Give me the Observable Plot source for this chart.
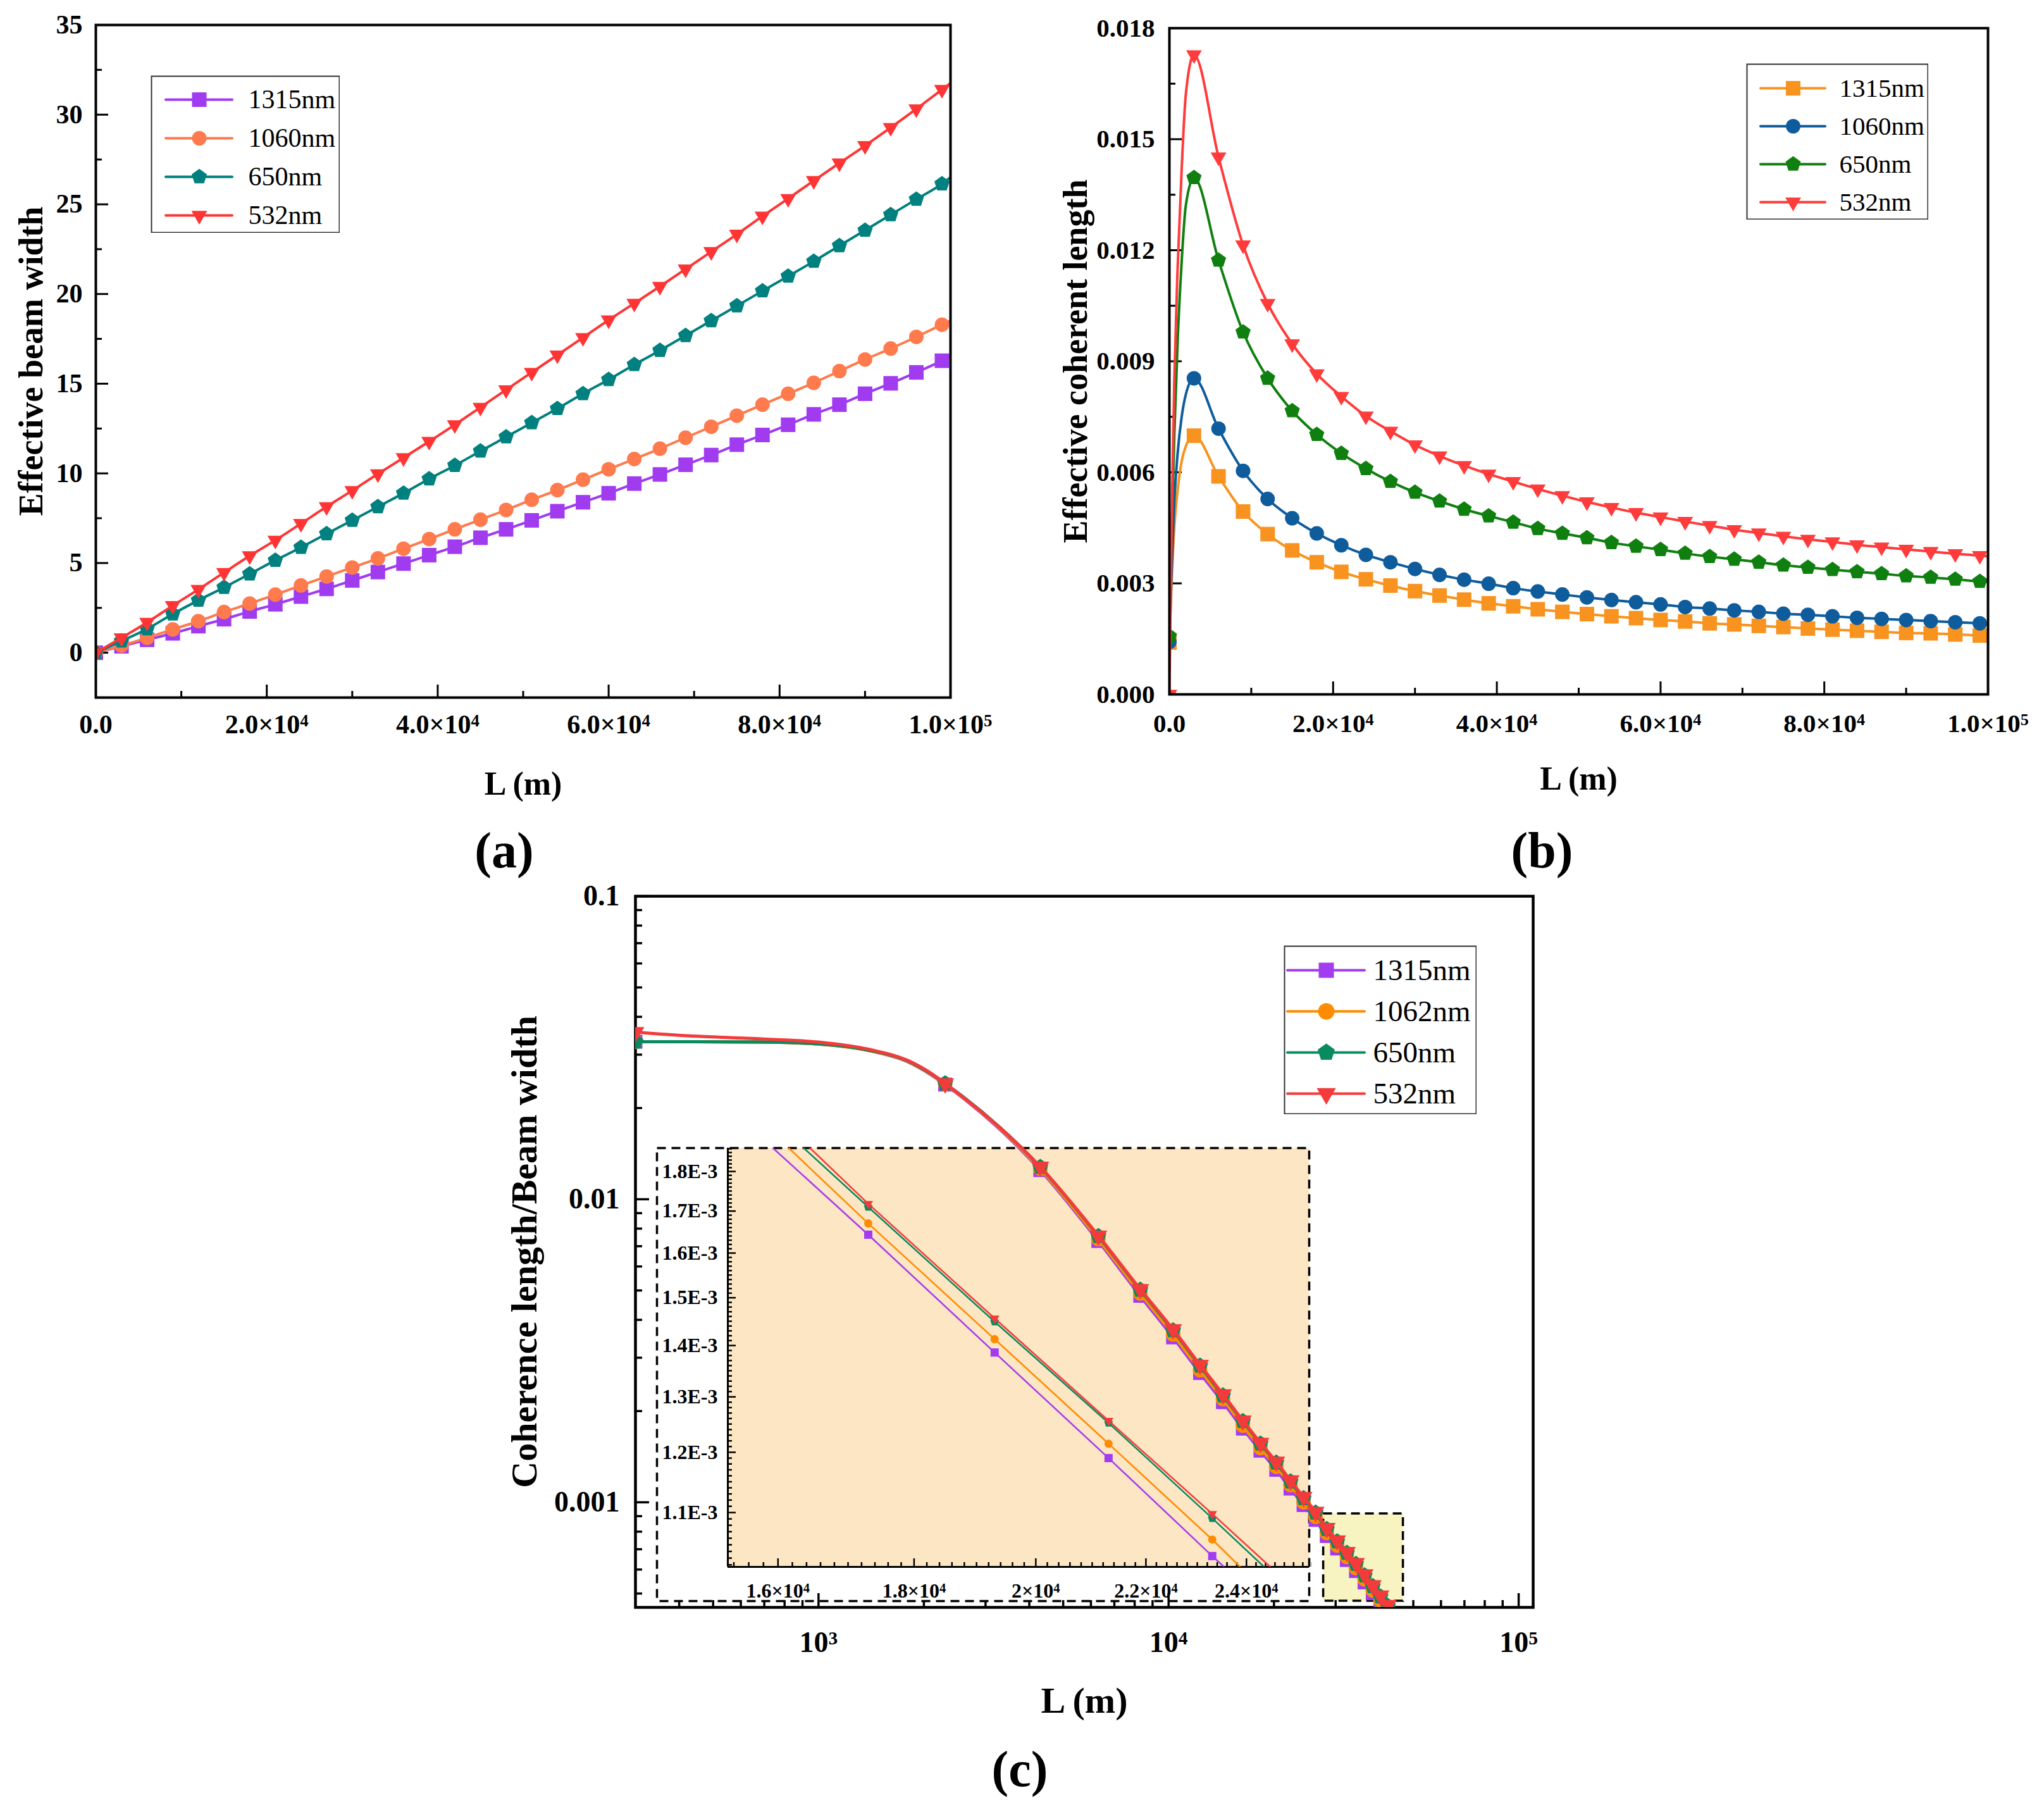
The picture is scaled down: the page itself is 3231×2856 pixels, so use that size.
<!DOCTYPE html>
<html>
<head>
<meta charset="utf-8">
<script src="https://cdn.jsdelivr.net/npm/d3@7"></script>
<script src="https://cdn.jsdelivr.net/npm/@observablehq/plot@0.6"></script>
<style>
html, body { margin: 0; padding: 0; background: #fff; }
#fig { position: relative; width: 3231px; height: 2856px; background: #fff; overflow: hidden; }
#fig > svg, #fig > div { position: absolute; }
</style>
</head>
<body>
<div id="fig"></div>
<script>
// ================= DATA =================
const names = ["1315nm", "1060nm", "650nm", "532nm"];
const namesC = ["1315nm", "1062nm", "650nm", "532nm"];

// ---- Panel (a): effective beam width vs L ----
const aL = [0, 3000, 6000, 9000, 12000, 15000, 18000, 21000, 24000, 27000, 30000, 33000, 36000, 39000, 42000, 45000, 48000, 51000, 54000, 57000, 60000, 63000, 66000, 69000, 72000, 75000, 78000, 81000, 84000, 87000, 90000, 93000, 96000, 99000, 100000];
const a1315 = [0, 0.36, 0.72, 1.08, 1.48, 1.87, 2.30, 2.70, 3.13, 3.56, 4.03, 4.50, 4.97, 5.44, 5.91, 6.41, 6.88, 7.38, 7.89, 8.39, 8.89, 9.43, 9.94, 10.48, 11.02, 11.60, 12.14, 12.71, 13.29, 13.83, 14.44, 15.02, 15.63, 16.28, 16.53];
const a1060 = [0, 0.40, 0.83, 1.30, 1.76, 2.27, 2.74, 3.24, 3.75, 4.25, 4.75, 5.26, 5.80, 6.34, 6.88, 7.42, 7.96, 8.53, 9.07, 9.65, 10.23, 10.80, 11.38, 11.99, 12.60, 13.22, 13.83, 14.44, 15.05, 15.70, 16.35, 16.96, 17.61, 18.29, 18.51];
const a650 = [0, 0.65, 1.33, 2.16, 2.92, 3.64, 4.39, 5.15, 5.87, 6.63, 7.38, 8.14, 8.89, 9.69, 10.44, 11.24, 12.03, 12.82, 13.61, 14.44, 15.23, 16.06, 16.85, 17.68, 18.51, 19.34, 20.17, 20.99, 21.82, 22.69, 23.55, 24.42, 25.28, 26.14, 26.50];
const a532 = [0, 0.83, 1.69, 2.63, 3.53, 4.47, 5.40, 6.27, 7.20, 8.14, 9.04, 9.97, 10.87, 11.78, 12.71, 13.68, 14.66, 15.63, 16.60, 17.57, 18.55, 19.48, 20.42, 21.39, 22.36, 23.33, 24.34, 25.32, 26.32, 27.30, 28.27, 29.28, 30.32, 31.40, 31.76];
const aXTicks = [0, 20000, 40000, 60000, 80000, 100000];
const aXLabels = ["0.0", "2.0×10^4", "4.0×10^4", "6.0×10^4", "8.0×10^4", "1.0×10^5"];
const aXMinor = [10000, 30000, 50000, 70000, 90000];
const aYTicks = [0, 5, 10, 15, 20, 25, 30, 35];
const aYLabels = ["0", "5", "10", "15", "20", "25", "30", "35"];
const aYMinor = [2.5, 7.5, 12.5, 17.5, 22.5, 27.5, 32.5];

// ---- Panel (b): effective coherent length vs L ----
const bL = [0, 300, 600, 1000, 1500, 2000, 3000, 6000, 9000, 12000, 15000, 18000, 21000, 24000, 27000, 30000, 33000, 36000, 39000, 42000, 45000, 48000, 51000, 54000, 57000, 60000, 63000, 66000, 69000, 72000, 75000, 78000, 81000, 84000, 87000, 90000, 93000, 96000, 99000, 100000];
const b1315 = [0.0014, 0.0032, 0.0045, 0.0055, 0.0063, 0.0067, 0.00699, 0.00589, 0.00494, 0.00433, 0.00389, 0.00357, 0.00331, 0.00311, 0.00294, 0.00279, 0.00267, 0.00256, 0.00246, 0.00238, 0.00230, 0.00223, 0.00217, 0.00211, 0.00206, 0.00201, 0.00197, 0.00192, 0.00189, 0.00185, 0.00182, 0.00178, 0.00175, 0.00172, 0.00169, 0.00166, 0.00165, 0.00162, 0.00159, 0.00158];
const b1060 = [0.00142, 0.0035, 0.0052, 0.0065, 0.0075, 0.0081, 0.00854, 0.00718, 0.00604, 0.00528, 0.00476, 0.00435, 0.00403, 0.00377, 0.00357, 0.00339, 0.00323, 0.00310, 0.00299, 0.00287, 0.00278, 0.00270, 0.00262, 0.00255, 0.00249, 0.00243, 0.00236, 0.00232, 0.00227, 0.00223, 0.00218, 0.00215, 0.00211, 0.00207, 0.00204, 0.00201, 0.00198, 0.00195, 0.00192, 0.00191];
const b650 = [0.00157, 0.0045, 0.0070, 0.0095, 0.0117, 0.0132, 0.01396, 0.01173, 0.00979, 0.00854, 0.00766, 0.00702, 0.00651, 0.00610, 0.00575, 0.00546, 0.00522, 0.00500, 0.00482, 0.00465, 0.00448, 0.00435, 0.00423, 0.00410, 0.00400, 0.00391, 0.00381, 0.00372, 0.00365, 0.00357, 0.00349, 0.00343, 0.00337, 0.00331, 0.00326, 0.00320, 0.00316, 0.00311, 0.00305, 0.00304];
const b532 = [0, 0.0050, 0.0085, 0.0115, 0.0142, 0.0162, 0.01728, 0.01452, 0.01214, 0.01056, 0.00947, 0.00866, 0.00805, 0.00752, 0.00711, 0.00674, 0.00644, 0.00618, 0.00595, 0.00575, 0.00555, 0.00537, 0.00520, 0.00505, 0.00491, 0.00479, 0.00467, 0.00456, 0.00445, 0.00436, 0.00427, 0.00419, 0.00412, 0.00404, 0.00398, 0.00392, 0.00386, 0.00380, 0.00375, 0.00373];
const bXTicks = aXTicks;
const bXLabels = aXLabels;
const bXMinor = aXMinor;
const bYTicks = [0, 0.003, 0.006, 0.009, 0.012, 0.015, 0.018];
const bYLabels = ["0.000", "0.003", "0.006", "0.009", "0.012", "0.015", "0.018"];
const bYMinor = [0.0015, 0.0045, 0.0075, 0.0105, 0.0135, 0.0165];

// ---- Panel (c): coherence length / beam width vs L (log-log) ----
const cL = [300, 450, 700, 1000, 1400, 1800, 2100, 2300, 4300, 6300, 8300, 10300, 12300, 14300, 16300, 18300, 20300, 22300, 24300, 26300, 28300, 30300, 32300, 34300, 36300, 38300, 40300, 42300, 44300];
const c1315 = [0.0331, 0.0331, 0.0330, 0.0325, 0.0309, 0.0284, 0.0257, 0.0239, 0.01248, 0.00728, 0.00480, 0.00350, 0.00267, 0.00214, 0.00175, 0.00148, 0.00128, 0.00111, 0.000979, 0.000875, 0.000774, 0.000704, 0.000645, 0.000593, 0.000544, 0.000501, 0.000463, 0.000431, 0.000403];
const c1062 = [0.0331, 0.0331, 0.0330, 0.0325, 0.0309, 0.0285, 0.0258, 0.0240, 0.01261, 0.00739, 0.00489, 0.00358, 0.00273, 0.00219, 0.00179, 0.00151, 0.00131, 0.00114, 0.00100, 0.000896, 0.000792, 0.000720, 0.000660, 0.000607, 0.000557, 0.000512, 0.000474, 0.000441, 0.000412];
const c650 = [0.0331, 0.0331, 0.0330, 0.0326, 0.0310, 0.0286, 0.0259, 0.0241, 0.01277, 0.00755, 0.00502, 0.00369, 0.00282, 0.00225, 0.00185, 0.00156, 0.00135, 0.00117, 0.00103, 0.000923, 0.000815, 0.000742, 0.000680, 0.000625, 0.000573, 0.000528, 0.000488, 0.000454, 0.000425];
const c532 = [0.0356, 0.0345, 0.0338, 0.0330, 0.0312, 0.0287, 0.0260, 0.0241, 0.0128, 0.00758, 0.00505, 0.00372, 0.00284, 0.00227, 0.00186, 0.00157, 0.00136, 0.00118, 0.00104, 0.00093, 0.000822, 0.000748, 0.000685, 0.000630, 0.000578, 0.000532, 0.000492, 0.000458, 0.000428];
const cXTicks = [1000, 10000, 100000];
const cXLabels = ["10^3", "10^4", "10^5"];
const cXMinor = [400, 500, 600, 700, 800, 900, 2000, 3000, 4000, 5000, 6000, 7000, 8000, 9000, 20000, 30000, 40000, 50000, 60000, 70000, 80000, 90000];
const cYTicks = [0.001, 0.01, 0.1];
const cYLabels = ["0.001", "0.01", "0.1"];
const cYMinor = [0.0005, 0.0006, 0.0007, 0.0008, 0.0009, 0.002, 0.003, 0.004, 0.005, 0.006, 0.007, 0.008, 0.009, 0.02, 0.03, 0.04, 0.05, 0.06, 0.07, 0.08, 0.09];
const zoomBoxL = [27700, 46800];
const zoomBoxV = [0.000472, 0.000917];

// ---- Inset of panel (c) ----
const inXDomain = [15320, 25340];
const inYDomain = [0.001017, 0.001862];
const in1315L = [15930, 17300, 19300, 21300, 23300, 23540];
const in1315 = [0.001862, 0.001643, 0.001386, 0.001190, 0.001033, 0.001017];
const in1062L = [16150, 17300, 19300, 21300, 23300, 23870];
const in1062 = [0.001862, 0.001670, 0.001413, 0.001215, 0.001058, 0.001017];
const in650L = [16360, 17300, 19300, 21300, 23300, 24370];
const in650 = [0.001862, 0.001710, 0.001449, 0.001252, 0.001091, 0.001017];
const in532L = [16450, 17300, 19300, 21300, 23300, 24500];
const in532 = [0.001862, 0.001718, 0.001456, 0.001256, 0.001098, 0.001017];
const inMarkL = [17300, 19300, 21300, 23300];
const inXTicks = [16000, 18000, 20000, 22000, 24000];
const inXLabels = ["1.6×10^4", "1.8×10^4", "2×10^4", "2.2×10^4", "2.4×10^4"];
const inYTicks = [0.0011, 0.0012, 0.0013, 0.0014, 0.0015, 0.0016, 0.0017, 0.0018];
const inYLabels = ["1.1E-3", "1.2E-3", "1.3E-3", "1.4E-3", "1.5E-3", "1.6E-3", "1.7E-3", "1.8E-3"];

// ================= HELPERS =================
const FONT = "'Liberation Serif', 'Times New Roman', Times, serif";
const SVGNS = "http://www.w3.org/2000/svg";
const fig = document.getElementById("fig");
function put(el, left, top) { el.style.left = left + "px"; el.style.top = top + "px"; fig.appendChild(el); return el; }
function labeler(ticks, labels) { const m = new Map(ticks.map((t, i) => [t, labels[i]])); return d => m.get(d); }
function superscripts(svg) {
  svg.querySelectorAll("text").forEach(t => {
    const s = t.textContent;
    if (!s.includes("^")) return;
    const [base, exp] = s.split("^");
    t.textContent = "";
    const a = document.createElementNS(SVGNS, "tspan"); a.textContent = base;
    const b = document.createElementNS(SVGNS, "tspan");
    b.setAttribute("dy", "-0.42em"); b.setAttribute("font-size", "0.64em"); b.textContent = exp;
    t.append(a, b);
  });
  return svg;
}
// marker symbols
const rad = size => Math.sqrt(size / Math.PI);
const symSquare = {draw(ctx, size) { const r = rad(size); ctx.moveTo(-r, -r); ctx.lineTo(r, -r); ctx.lineTo(r, r); ctx.lineTo(-r, r); ctx.closePath(); }};
const symCircle = {draw(ctx, size) { const r = rad(size); ctx.moveTo(r, 0); ctx.arc(0, 0, r, 0, 2 * Math.PI); ctx.closePath(); }};
const symPentagon = {draw(ctx, size) { const R = 1.1 * rad(size); for (let k = 0; k < 5; k++) { const a = -Math.PI / 2 + k * 2 * Math.PI / 5; const x = R * Math.cos(a), y = R * Math.sin(a); if (k) ctx.lineTo(x, y); else ctx.moveTo(x, y); } ctx.closePath(); }};
const symTriDown = {draw(ctx, size) { const R = 1.25 * rad(size); ctx.moveTo(0, R); ctx.lineTo(-R * 0.866, -R * 0.5); ctx.lineTo(R * 0.866, -R * 0.5); ctx.closePath(); }};
const SYMS = [symSquare, symCircle, symPentagon, symTriDown];

function seriesMarks(series, isMarker, lineW, curve) {
  return series.flatMap(s => {
    const data = s.L.map((x, i) => ({L: x, v: s.v[i]}));
    return [
      Plot.line(data, {x: "L", y: "v", stroke: s.color, strokeWidth: lineW, curve, clip: true}),
      Plot.dot(data.filter(d => isMarker(d.L)), {x: "L", y: "v", r: s.r, symbol: s.sym, fill: s.color, stroke: "none", clip: true})
    ];
  });
}
function ticksLeft(values, len, fw, sw) { return Plot.tickY(values, {y: d => d, insetRight: fw - len, stroke: "#000", strokeWidth: sw}); }
function ticksBottom(values, len, fh, sw) { return Plot.tickX(values, {x: d => d, insetTop: fh - len, stroke: "#000", strokeWidth: sw}); }
function yTitle(text, dx, fontSize) { return Plot.text([text], {text: d => d, frameAnchor: "left", textAnchor: "middle", lineAnchor: "middle", dx, rotate: -90, fontSize}); }
function xTitle(text, dx, dy, fontSize) { return Plot.text([text], {text: d => d, frameAnchor: "bottom", textAnchor: "middle", lineAnchor: "middle", dx, dy, fontSize}); }

function legend({labels, colors, rs, w, h, rowY, lineX, textX, fontSize, lineW}) {
  return Plot.plot({
    width: w, height: h, margin: 0,
    style: {fontFamily: FONT, fontWeight: "normal", fontSize: fontSize + "px", background: "#fff", color: "#000"},
    x: {domain: [0, 1], range: lineX, axis: null},
    y: {type: "point", domain: labels, range: rowY, padding: 0, axis: null},
    marks: [
      Plot.frame({stroke: "#333", strokeWidth: 2, inset: 1}),
      ...labels.map((n, i) => Plot.ruleY([n], {y: d => d, x1: 0, x2: 1, stroke: colors[i], strokeWidth: lineW, strokeLinecap: "round"})),
      ...labels.map((n, i) => Plot.dot([n], {x: 0.5, y: d => d, r: rs[i], symbol: SYMS[i], fill: colors[i], stroke: "none"})),
      Plot.text(labels, {x: 1, y: d => d, text: d => d, dx: textX - lineX[1], textAnchor: "start", fontSize, fontFamily: FONT, fontWeight: "normal"})
    ]
  });
}

// ================= PANEL (a) =================
const colA = ["#A03BF0", "#FF7A4D", "#00807E", "#FF3535"];
const A = {w: 1620, h: 1420, ml: 151, mr: 118, mt: 39, mb: 318};
A.fw = A.w - A.ml - A.mr; A.fh = A.h - A.mt - A.mb;
const seriesA = [a1315, a1060, a650, a532].map((v, i) => ({L: aL, v, color: colA[i], sym: SYMS[i], r: 11.5}));
const plotA = Plot.plot({
  width: A.w, height: A.h, marginLeft: A.ml, marginRight: A.mr, marginTop: A.mt, marginBottom: A.mb,
  style: {fontFamily: FONT, fontWeight: "bold", fontSize: "42px", background: "transparent", color: "#000"},
  x: {domain: [0, 1e5]},
  y: {domain: [-2.5, 35]},
  marks: [
    ticksLeft(aYTicks, 20, A.fw, 3), ticksLeft(aYMinor, 10, A.fw, 3),
    ticksBottom(aXTicks, 20, A.fh, 3), ticksBottom(aXMinor, 10, A.fh, 3),
    Plot.axisX(aXTicks, {tickSize: 0, tickPadding: 27, tickFormat: labeler(aXTicks, aXLabels), label: null}),
    Plot.axisY(aYTicks, {tickSize: 0, tickPadding: 21, tickFormat: labeler(aYTicks, aYLabels), label: null}),
    ...seriesMarks(seriesA, L => L % 3000 === 0 && L < 100000, 4, "monotone-x"),
    Plot.frame({stroke: "#000", strokeWidth: 4}),
    yTitle("Effective beam width", -102, 54),
    xTitle("L (m)", 0, 137, 52),
    xTitle("(a)", -30, 243, 80)
  ]
});
put(superscripts(plotA), 0, 0);
put(legend({labels: names, colors: colA, rs: [11.5, 11.5, 11.5, 11.5], w: 299, h: 249, rowY: [37, 221], lineX: [24, 129], textX: 154, fontSize: 42, lineW: 4}), 238, 119);

// ================= PANEL (b) =================
const colB = ["#F8931F", "#0F5C9C", "#0F800F", "#FF3B3B"];
const B = {w: 1591, h: 1420, ml: 208, mr: 89, mt: 44, mb: 323};
B.fw = B.w - B.ml - B.mr; B.fh = B.h - B.mt - B.mb;
const seriesB = [b1315, b1060, b650, b532].map((v, i) => ({L: bL, v, color: colB[i], sym: SYMS[i], r: 11.5}));
const plotB = Plot.plot({
  width: B.w, height: B.h, marginLeft: B.ml, marginRight: B.mr, marginTop: B.mt, marginBottom: B.mb,
  style: {fontFamily: FONT, fontWeight: "bold", fontSize: "41px", background: "transparent", color: "#000"},
  x: {domain: [0, 1e5]},
  y: {domain: [0, 0.018]},
  marks: [
    ticksLeft(bYTicks, 20, B.fw, 3), ticksLeft(bYMinor, 10, B.fw, 3),
    ticksBottom(bXTicks, 20, B.fh, 3), ticksBottom(bXMinor, 10, B.fh, 3),
    Plot.axisX(bXTicks, {tickSize: 0, tickPadding: 30, tickFormat: labeler(bXTicks, bXLabels), label: null}),
    Plot.axisY(bYTicks, {tickSize: 0, tickPadding: 23, tickFormat: labeler(bYTicks, bYLabels), label: null}),
    ...seriesMarks(seriesB, L => L % 3000 === 0 && L < 100000, 4, "monotone-x"),
    Plot.frame({stroke: "#000", strokeWidth: 4}),
    yTitle("Effective coherent length", -148, 54),
    xTitle("L (m)", 0, 134, 52),
    xTitle("(b)", -58, 248, 80)
  ]
});
put(superscripts(plotB), 1640, 0);
put(legend({labels: names, colors: colB, rs: [11.5, 11.5, 11.5, 11.5], w: 288, h: 247, rowY: [38, 220], lineX: [23, 125], textX: 147, fontSize: 41, lineW: 4}), 2760, 100);

// ================= PANEL (c) =================
const colC = ["#A33BF0", "#FF8C00", "#0A8A5F", "#F43B3B"];
const C = {w: 1800, h: 1476, ml: 304, mr: 77, mt: 36, mb: 316, left: 700, top: 1380};
C.fw = C.w - C.ml - C.mr; C.fh = C.h - C.mt - C.mb;
const cX = {type: "log", domain: [300, 1.1e5]};
const cY = {type: "log", domain: [0.00045, 0.1]};
const zoomBox = [{L1: zoomBoxL[0], L2: zoomBoxL[1], v1: zoomBoxV[0], v2: zoomBoxV[1]}];
const plotC = Plot.plot({
  width: C.w, height: C.h, marginLeft: C.ml, marginRight: C.mr, marginTop: C.mt, marginBottom: C.mb,
  style: {fontFamily: FONT, fontWeight: "bold", fontSize: "46px", background: "transparent", color: "#000"},
  x: cX, y: cY,
  marks: [
    Plot.rect(zoomBox, {x1: "L1", x2: "L2", y1: "v1", y2: "v2", fill: "#F7F4C1", stroke: "#000", strokeWidth: 3.5, strokeDasharray: "14,8"}),
    ticksLeft(cYTicks, 22, C.fw, 3.5), ticksLeft(cYMinor, 11, C.fw, 3.5),
    ticksBottom(cXTicks, 22, C.fh, 3.5), ticksBottom(cXMinor, 11, C.fh, 3.5),
    Plot.axisX(cXTicks, {tickSize: 0, tickPadding: 38, tickFormat: labeler(cXTicks, cXLabels), label: null}),
    Plot.axisY(cYTicks, {tickSize: 0, tickPadding: 25, tickFormat: labeler(cYTicks, cYLabels), label: null}),
    Plot.frame({stroke: "#000", strokeWidth: 4.5}),
    yTitle("Coherence length/Beam width", -175, 58),
    xTitle("L (m)", 0, 148, 58),
    xTitle("(c)", -102, 257, 80)
  ]
});
put(superscripts(plotC), C.left, C.top);

// inset
const I = {w: 1039, h: 724, ml: 116, mr: 4, mt: 4, mb: 58};
I.fw = I.w - I.ml - I.mr; I.fh = I.h - I.mt - I.mb;
const inMinorX = d3.range(15400, 25401, 200).filter(v => v % 2000 !== 0);
const inMinorY = d3.range(102, 187).filter(k => k % 10 !== 0).map(k => k * 1e-5);
const seriesIn = [[in1315L, in1315], [in1062L, in1062], [in650L, in650], [in532L, in532]]
  .map(([L, v], i) => ({L, v, color: colC[i], sym: SYMS[i], r: i === 3 ? 7 : 6.5}));
const plotI = Plot.plot({
  width: I.w, height: I.h, marginLeft: I.ml, marginRight: I.mr, marginTop: I.mt, marginBottom: I.mb,
  style: {fontFamily: FONT, fontWeight: "bold", fontSize: "32px", background: "transparent", color: "#000"},
  x: {type: "log", domain: inXDomain}, y: {type: "log", domain: inYDomain},
  marks: [
    Plot.frame({fill: "#FDE6C3", stroke: "none"}),
    Plot.frame({stroke: "#000", strokeWidth: 3.5, strokeDasharray: "14,9", insetLeft: -112, insetBottom: -54}),
    ticksLeft(inYTicks, 13, I.fw, 2.5), ticksLeft(inMinorY, 7, I.fw, 2.5),
    ticksBottom(inXTicks, 13, I.fh, 2.5), ticksBottom(inMinorX, 7, I.fh, 2.5),
    Plot.ruleX([inXDomain[0]], {stroke: "#000", strokeWidth: 3}),
    Plot.ruleY([inYDomain[0]], {stroke: "#000", strokeWidth: 3}),
    Plot.axisX(inXTicks, {tickSize: 0, tickPadding: 26, tickFormat: labeler(inXTicks, inXLabels), label: null}),
    Plot.axisY(inYTicks, {tickSize: 0, tickPadding: 16, tickFormat: labeler(inYTicks, inYLabels), label: null}),
    ...seriesMarks(seriesIn, L => inMarkL.includes(L), 2.5, "linear")
  ]
});
put(superscripts(plotI), 1034, 1810);

// main curves overlay (drawn above the inset)
const seriesC = [c1315, c1062, c650, c532].map((v, i) => ({L: cL, v, color: colC[i], sym: SYMS[i], r: [11, 11.5, 12, 13][i]}));
const plotC2 = Plot.plot({
  width: C.w, height: C.h, marginLeft: C.ml, marginRight: C.mr, marginTop: C.mt, marginBottom: C.mb,
  style: {background: "transparent"},
  x: {...cX, axis: null}, y: {...cY, axis: null},
  marks: [
    ...seriesMarks(seriesC, L => (L - 300) % 2000 === 0, 5, "monotone-x")
  ]
});
put(plotC2, C.left, C.top);
put(legend({labels: namesC, colors: colC, rs: [12, 13, 13, 14], w: 305, h: 267, rowY: [38, 234], lineX: [6, 128], textX: 141, fontSize: 47, lineW: 4}), 2029, 1494);
</script>
</body>
</html>
